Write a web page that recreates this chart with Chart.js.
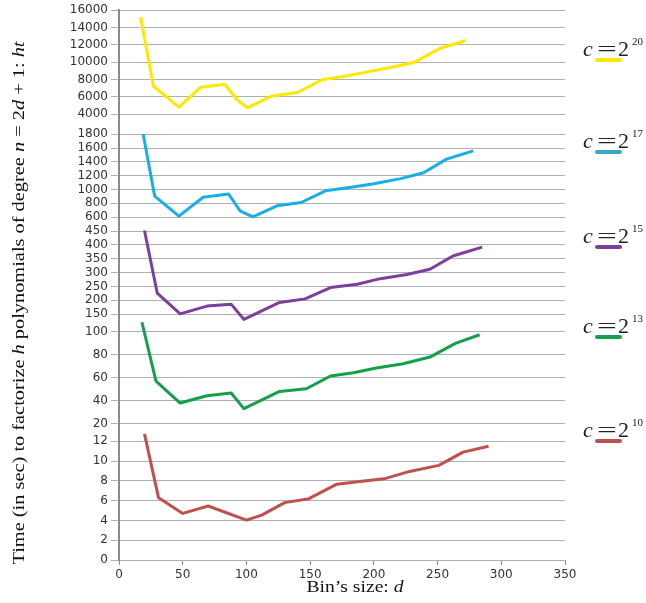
<!DOCTYPE html>
<html>
<head>
<meta charset="utf-8">
<script src="https://cdn.jsdelivr.net/npm/chart.js@4.4.0/dist/chart.umd.min.js"></script>
<style>
html, body { margin: 0; padding: 0; background: #fff; }
#wrap { width: 646px; height: 603px; }
</style>
</head>
<body>
<div id="wrap"><canvas id="chart"></canvas></div>
<script>
// bin size d (the panels were pasted together, x positions differ a bit)
var dYellow = [17, 27, 47, 64, 83, 93, 101, 120, 140, 159, 176, 194, 213, 232, 252, 272];
var tYellow = [15200, 7250, 4820, 7100, 7450, 5600, 4750, 6100, 6500, 7960, 8350, 8850, 9380, 10000, 11600, 12500];

var dBlue = [19, 28, 47, 66, 86, 95, 105, 124, 143, 162, 181, 200, 221, 239, 257, 278];
var tBlue = [1800, 904, 614, 887, 935, 692, 605, 764, 812, 981, 1029, 1084, 1157, 1243, 1439, 1559];

var dPurple = [20, 30, 48, 69, 88, 98, 126, 146, 166, 187, 205, 226, 244, 262, 285];
var tPurple = [452, 226, 151, 179, 186, 131, 192, 205, 246, 258, 278, 293, 312, 360, 392];

var dGreen = [18, 29, 48, 69, 88, 98, 126, 147, 166, 184, 202, 223, 244, 264, 283];
var tGreen = [108, 56.8, 37.7, 44, 46.4, 32.8, 47.8, 50.1, 61.2, 64, 68.1, 71.9, 77.7, 89.6, 97.1];

var dRed = [20, 31, 50, 70, 100, 112, 130, 149, 171, 189, 208, 228, 251, 270, 290];
var tRed = [12.75, 6.3, 4.71, 5.46, 4.03, 4.54, 5.8, 6.2, 7.66, 7.93, 8.2, 8.95, 9.56, 10.9, 11.5];

// tick labels of each panel
var ticksYellow = [4000, 6000, 8000, 10000, 12000, 14000, 16000];
var ticksBlue = [600, 800, 1000, 1200, 1400, 1600, 1800];
var ticksPurple = [150, 200, 250, 300, 350, 400, 450];
var ticksGreen = [20, 40, 60, 80, 100];
var ticksRed = [0, 2, 4, 6, 8, 10, 12];
var xTicks = [0, 50, 100, 150, 200, 250, 300, 350];

var exponents = ['20', '17', '15', '13', '10'];

function pts(xs, ys) {
    return xs.map(function (x, i) { return { x: x, y: ys[i] }; });
}

var tickFont = { family: 'DejaVu Sans', size: 12 };

function panelAxis(ticks, min, max, height, order) {
    return {
        type: 'linear',
        position: 'left',
        stack: 'panels',
        stackWeight: height,
        weight: order,
        min: min,
        max: max,
        afterBuildTicks: function (s) {
            s.ticks = ticks.map(function (v) { return { value: v }; });
        },
        afterFit: function (s) { s.width = 119; },
        ticks: {
            font: tickFont,
            color: '#333',
            padding: 3,
            autoSkip: false,
            callback: function (v) { return String(v); }
        },
        grid: { color: '#b0b0b0', lineWidth: 1, tickLength: 8 },
        border: { color: '#8a8a8a', width: 2 }
    };
}

function line(data, color, axis) {
    return {
        data: data,
        yAxisID: axis,
        borderColor: color,
        backgroundColor: color,
        borderWidth: 3,
        pointRadius: 0,
        tension: 0,
        fill: false,
        borderJoinStyle: 'round',
        clip: false
    };
}

function drawParts(ctx, parts, size) {
    var x = 0;
    parts.forEach(function (p) {
        ctx.font = (p[1] ? 'italic ' : '') + size + 'px "Liberation Serif"';
        ctx.fillText(p[0], x, 0);
        x += ctx.measureText(p[0]).width;
    });
    return x;
}

function measureParts(ctx, parts, size) {
    var w = 0;
    parts.forEach(function (p) {
        ctx.font = (p[1] ? 'italic ' : '') + size + 'px "Liberation Serif"';
        w += ctx.measureText(p[0]).width;
    });
    return w;
}

var yTitle = [['Time (in sec) to factorize ', false], ['h', true], [' polynomials of degree ', false],
    ['n', true], [' = 2', false], ['d', true], [' + 1: ', false], ['ht', true]];
var xTitle = [['Bin\u2019s size: ', false], ['d', true]];

var textPlugin = {
    id: 'texts',
    afterDraw: function (chart) {
        var ctx = chart.ctx;
        ctx.save();
        ctx.fillStyle = '#111';
        ctx.textBaseline = 'middle';
        ctx.textAlign = 'left';

        // y title, rotated, stretched to the reference length
        var w = measureParts(ctx, yTitle, 16);
        ctx.save();
        ctx.translate(20, 303);
        ctx.rotate(-Math.PI / 2);
        ctx.scale(523 / w, 1);
        ctx.translate(-w / 2, 0);
        drawParts(ctx, yTitle, 16);
        ctx.restore();

        // x title
        w = measureParts(ctx, xTitle, 16);
        ctx.save();
        ctx.translate(355, 588);
        ctx.scale(97 / w, 1);
        ctx.translate(-w / 2, 0);
        drawParts(ctx, xTitle, 16);
        ctx.restore();

        // legend labels next to each panel
        var centers = [50, 142, 237, 327, 431];
        chart.data.datasets.forEach(function (ds, i) {
            var cy = centers[i];
            ctx.fillStyle = '#222';
            ctx.font = 'italic 22px "Liberation Serif"';
            ctx.fillText('c', 583, cy);
            ctx.font = '22px "Liberation Serif"';
            ctx.save();
            ctx.translate(597, cy);
            ctx.scale(1.6, 1);
            ctx.fillText('=', 0, 0);
            ctx.restore();
            ctx.fillText('2', 618, cy);
            ctx.font = '11px "Liberation Serif"';
            ctx.fillText(exponents[i], 632, cy - 8);

            ctx.strokeStyle = ds.legendColor;
            ctx.lineWidth = 4;
            ctx.lineCap = 'round';
            ctx.beginPath();
            ctx.moveTo(597, cy + 10);
            ctx.lineTo(620, cy + 10);
            ctx.stroke();
        });
        ctx.restore();
    }
};

var datasets = [
    line(pts(dYellow, tYellow), '#ffe800', 'yYellow'),
    line(pts(dBlue, tBlue), '#18aee8', 'yBlue'),
    line(pts(dPurple, tPurple), '#7b3f9e', 'yPurple'),
    line(pts(dGreen, tGreen), '#14a04a', 'yGreen'),
    line(pts(dRed, tRed), '#c0504d', 'yRed')
];
var legendColors = ['#ffe600', '#3aa5c8', '#7b3f9e', '#14a04a', '#c0504d'];
datasets.forEach(function (ds, i) { ds.legendColor = legendColors[i]; });

var ctx = document.getElementById('chart').getContext('2d');
var chart = new Chart(ctx, {
    type: 'line',
    data: { datasets: datasets },
    options: {
        responsive: true,
        maintainAspectRatio: false,
        animation: false,
        layout: { padding: { top: 10, right: 81, bottom: 0, left: 0 } },
        plugins: {
            legend: { display: false },
            tooltip: { enabled: false }
        },
        scales: {
            x: {
                type: 'linear',
                min: 0,
                max: 350,
                afterBuildTicks: function (s) {
                    s.ticks = xTicks.map(function (v) { return { value: v }; });
                },
                afterFit: function (s) { s.height = 43; },
                ticks: { font: tickFont, color: '#333', padding: 3, autoSkip: false, maxRotation: 0 },
                grid: { drawOnChartArea: false, tickLength: 5, color: '#8a8a8a' },
                border: { color: '#b0b0b0', width: 1 }
            },
            yYellow: panelAxis(ticksYellow, 2846, 16000, 114, 5),
            yBlue: panelAxis(ticksBlue, 499, 1945, 100, 4),
            yPurple: panelAxis(ticksPurple, 119, 475, 98.6, 3),
            yGreen: panelAxis(ticksGreen, 12.2, 107.6, 109.7, 2),
            yRed: panelAxis(ticksRed, 0, 12.9, 127.7, 1)
        }
    },
    plugins: [textPlugin]
});
</script>
</body>
</html>
